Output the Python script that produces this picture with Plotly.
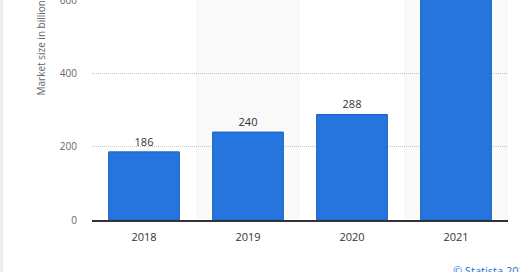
import plotly.graph_objects as go

years = ["2018", "2019", "2020", "2021"]
values = [186, 240, 288, 700]
value_labels = ["186", "240", "288", ""]
y_ticks = [0, 200, 400, 600]
y_title = "Market size in billion U.S. dollars"

FONT = "Open Sans, DejaVu Sans, sans-serif"

fig = go.Figure()
fig.add_trace(go.Bar(
    x=years, y=values,
    marker=dict(color="#2674dd", line=dict(color="#1a5fc4", width=1)),
    width=0.68,
    text=value_labels, textposition="outside", cliponaxis=False,
    textfont=dict(family=FONT, size=11, color="#333333"),
    hoverinfo="skip",
))

shapes = []
for i, yr in enumerate(years):
    if i % 2 == 1:
        shapes.append(dict(type="rect", xref="x", yref="paper",
                           x0=i - 0.5, x1=i + 0.5, y0=0, y1=1,
                           fillcolor="#f9f9f9", line=dict(width=0), layer="below"))
# thin light border at left edge of page
shapes.append(dict(type="rect", xref="paper", yref="paper", x0=-92/416, x1=-89/416,
                   y0=-52/220, y1=1, fillcolor="#eceef0", line=dict(width=0), layer="below"))
fig.update_layout(shapes=shapes)

fig.add_annotation(text=y_title, textangle=-90, xref="paper", yref="paper",
                   x=-52/416, y=(220 - 98) / 220, xanchor="center", yanchor="bottom",
                   showarrow=False,
                   font=dict(family=FONT, size=10, color="#666666"))
fig.add_annotation(text="© Statista 2021", xref="paper", yref="paper",
                   x=(451 - 92) / 416, y=-(261 - 220) / 220, xanchor="left", yanchor="top",
                   showarrow=False,
                   font=dict(family=FONT, size=11, color="#1a6fd4"))

fig.update_layout(
    width=520, height=272,
    margin=dict(l=92, r=12, t=0, b=52),
    paper_bgcolor="white", plot_bgcolor="white",
    showlegend=False, bargap=0.32,
    xaxis=dict(showline=True, linecolor="#333333", linewidth=2, ticks="",
               showgrid=False, ticklabelstandoff=6, automargin=False,
               tickfont=dict(family=FONT, size=11, color="#333333")),
    yaxis=dict(range=[0, 600.5], tickvals=y_ticks, showgrid=True, gridcolor="#c4c4c4",
               griddash="1px,1px", gridwidth=1, zeroline=False, ticks="", ticklabelstandoff=14,
               ticklabeloverflow="allow", automargin=False,
               tickfont=dict(family=FONT, size=10, color="#666666")),
)

fig.write_html("out.html")
